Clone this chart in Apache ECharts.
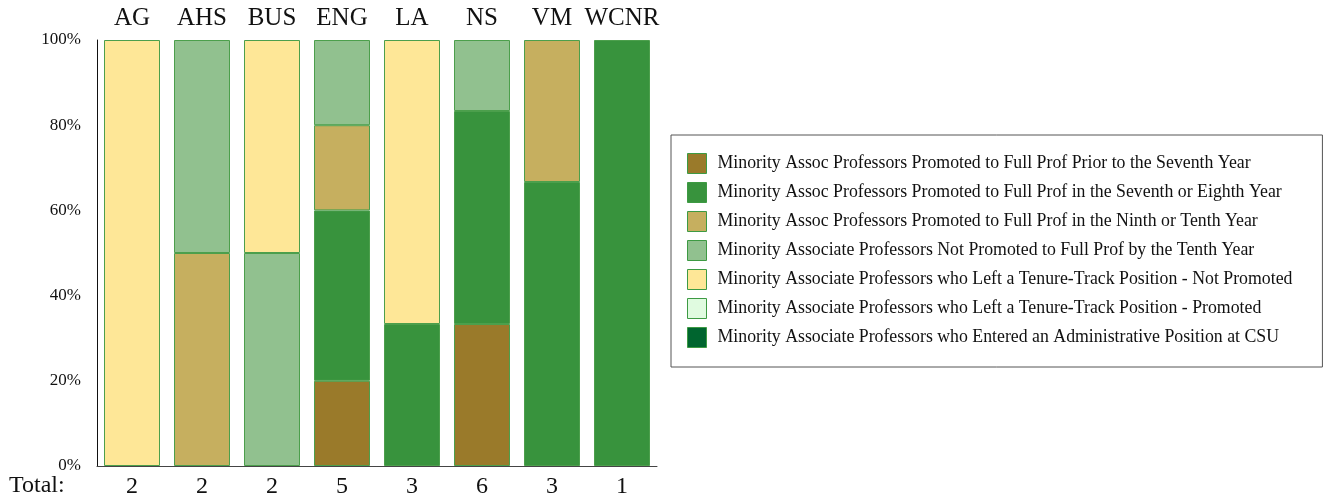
<!DOCTYPE html>
<html><head><meta charset="utf-8">
<script src="https://cdn.jsdelivr.net/npm/echarts@6/dist/echarts.min.js"></script>
<style>html,body{margin:0;padding:0;background:#fff}#c{width:1329px;height:500px}</style>
</head><body><div id="c"></div>
<script>
const categories = ['AG','AHS','BUS','ENG','LA','NS','VM','WCNR'];
const totals = [2,2,2,5,3,6,3,1];
const seriesNames = [
  'Minority Assoc Professors Promoted to Full Prof Prior to the Seventh Year',
  'Minority Assoc Professors Promoted to Full Prof in the Seventh or Eighth Year',
  'Minority Assoc Professors Promoted to Full Prof in the Ninth or Tenth Year',
  'Minority Associate Professors Not Promoted to Full Prof by the Tenth Year',
  'Minority Associate Professors who Left a Tenure-Track Position - Not Promoted',
  'Minority Associate Professors who Left a Tenure-Track Position - Promoted',
  'Minority Associate Professors who Entered an Administrative Position at CSU'
];
const priorSeventh   = [0,0,0,1,0,2,0,0];
const seventhEighth  = [0,0,0,2,1,3,2,1];
const ninthTenth     = [0,1,0,1,0,0,1,0];
const notPromoted    = [0,1,1,1,0,1,0,0];
const leftNotPromoted= [2,0,1,0,2,0,0,0];
const leftPromoted   = [0,0,0,0,0,0,0,0];
const adminPosition  = [0,0,0,0,0,0,0,0];
const yTicks = [0,20,40,60,80,100];
const colors = ['#9a7a2a','#38933d','#c6af5f','#91c18f','#fee797','#e0fbe0','#00652f'];

const counts = [priorSeventh,seventhEighth,ninthTenth,notPromoted,leftNotPromoted,leftPromoted,adminPosition];
const serif = '"Liberation Serif", "DejaVu Serif", serif';
const chart = echarts.init(document.getElementById('c'), null, {renderer:'canvas'});
chart.setOption({
  animation:false,
  textStyle:{fontFamily:serif},
  grid:{left:97,top:40,width:560,height:426},
  xAxis:[
    {type:'category',data:categories,position:'top',
     axisLine:{show:false},axisTick:{show:false},
     axisLabel:{interval:0,color:'#111',fontSize:25,fontFamily:serif,margin:9}},
    {type:'category',data:totals.map(String),position:'bottom',
     axisLine:{show:true,lineStyle:{color:'#444',width:1}},axisTick:{show:false},
     axisLabel:{interval:0,color:'#111',fontSize:24,fontFamily:serif,margin:9}}
  ],
  yAxis:{type:'value',min:yTicks[0],max:yTicks[yTicks.length-1],interval:yTicks[1]-yTicks[0],
    axisLine:{show:true,lineStyle:{color:'#111',width:1}},axisTick:{show:false},
    splitLine:{show:false},
    axisLabel:{formatter:'{value}%',color:'#111',fontSize:17,fontFamily:serif,margin:16}},
  legend:{orient:'vertical',left:671,top:135,
    padding:[18,30,19,16],itemGap:8,itemWidth:19,itemHeight:20,icon:'rect',
    borderColor:'#555',borderWidth:1,
    textStyle:{fontSize:17.8,color:'#111',fontFamily:serif,padding:[0,0,0,6]},
    itemStyle:{borderColor:'#3d9a43',borderWidth:1},
    data:seriesNames},
  graphic:[{type:'text',left:9,top:474,style:{text:'Total:',font:'24px '+serif,fill:'#111'}}],
  series:counts.map((arr,i)=>({
    name:seriesNames[i],type:'bar',stack:'all',barWidth:'80%',
    xAxisIndex:0,
    itemStyle:{color:colors[i],borderColor:'#4c9f4c',borderWidth:1},
    data:arr.map((v,j)=>v===0?null:v/totals[j]*100)
  }))
});
</script></body></html>
